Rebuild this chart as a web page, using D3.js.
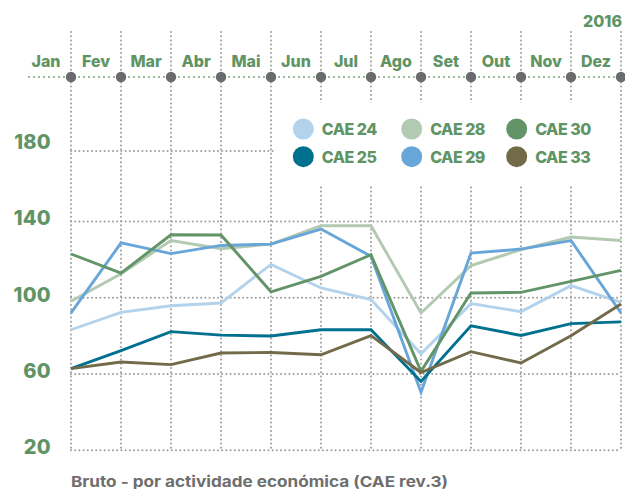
<!DOCTYPE html>
<html><head><meta charset="utf-8">
<script src="https://cdn.jsdelivr.net/npm/d3@7"></script>
<style>
html,body{margin:0;padding:0;background:#fff;}
svg{display:block;font-family:Inter,"Open Sans",sans-serif;}
</style></head>
<body>
<svg id="chart" width="625" height="489"></svg>
<script>
const months = ["Jan","Fev","Mar","Abr","Mai","Jun","Jul","Ago","Set","Out","Nov","Dez"];
const yTicks = [20,60,100,140,180];
const year = "2016";
const footnote = "Bruto - por actividade económica (CAE rev.3)";
const seriesNames = ["CAE 24","CAE 25","CAE 28","CAE 29","CAE 30","CAE 33"];
const seriesColors = ["#b3d3ec","#00708f","#b2c9b2","#68a6d9","#639467","#736a4a"];
const cae24 = [83.2,92.3,95.8,97.2,117.5,105.1,99.0,70.6,96.9,92.7,106.3,97.5];
const cae25 = [62.8,72.2,82.2,80.4,79.9,83.2,83.2,56.1,85.3,80.2,86.4,87.3];
const cae28 = [98.1,112.6,130.0,125.7,128.1,137.7,137.7,92.0,116.8,125.2,131.8,130.0];
const cae29 = [92.0,128.7,123.1,127.4,128.1,136.0,121.7,50.4,123.4,125.5,130.0,92.0];
const cae30 = [122.9,112.9,133.0,132.9,103.1,111.2,122.5,61.4,102.5,102.8,108.6,114.3];
const cae33 = [62.8,66.3,64.9,71.0,71.3,70.1,80.1,60.8,71.7,65.8,80.1,96.7];
const seriesValues = [cae24,cae25,cae28,cae29,cae30,cae33];
const drawOrder = [0,2,3,4,1,5];
const legendOrder = [0,2,4,1,3,5];

const green = "#5f9465";
const svg = d3.select("#chart");
const x = d3.scalePoint().domain(months).range([71,621]);
const y = d3.scaleLinear().domain([20,180]).range([450.3,145.1]);

const dot = {"stroke":"#9c9c9c","stroke-width":2,"stroke-dasharray":"0,4.2","stroke-linecap":"round"};
function applyAttrs(sel,o){for(const k in o) sel.attr(k,o[k]); return sel;}

const g = svg.append("g");
months.forEach(m=>{
  applyAttrs(g.append("line").attr("x1",x(m)).attr("x2",x(m)).attr("y1",32).attr("y2",450),dot);
});
yTicks.forEach(t=>{
  const yy = t===180 ? y(t)+6 : y(t);
  applyAttrs(g.append("line").attr("x1",71).attr("x2",621).attr("y1",yy).attr("y2",yy),dot);
});

svg.append("g").selectAll("text").data(yTicks).join("text")
  .attr("x",51).attr("y",d=>y(d)-3)
  .attr("text-anchor","end").attr("dominant-baseline","central")
  .attr("fill",green).attr("font-weight",800).attr("font-size",20)
  .attr("letter-spacing",0.3)
  .text(d=>d);

const line = d3.line().x((d,i)=>x(months[i])).y(d=>y(d));
drawOrder.forEach(k=>{
  svg.append("path").datum(seriesValues[k])
    .attr("d",line).attr("fill","none")
    .attr("stroke",seriesColors[k]).attr("stroke-width",2.9)
    .attr("stroke-linejoin","miter");
});

svg.append("line").attr("x1",29).attr("x2",625).attr("y1",77).attr("y2",77)
  .attr("stroke","#7fae82").attr("stroke-width",2.2).attr("stroke-dasharray","0,5").attr("stroke-linecap","round");
svg.append("g").selectAll("circle").data(months).join("circle")
  .attr("cx",d=>x(d)).attr("cy",77).attr("r",5.2).attr("fill","#6b6b6d");
svg.append("g").selectAll("text").data(months).join("text")
  .attr("x",d=>x(d)-25).attr("y",67).attr("text-anchor","middle")
  .attr("fill",green).attr("font-weight",800).attr("font-size",16)
  .text(d=>d);
svg.append("text").attr("x",622).attr("y",27).attr("text-anchor","end")
  .attr("fill",green).attr("font-weight",800).attr("font-size",16).text(year);

svg.append("rect").attr("x",275).attr("y",103).attr("width",343).attr("height",82).attr("fill","#fff");
const colX = [303.3,411.7,516.7];
const rowY = [129,156.7];
legendOrder.forEach((k,j)=>{
  const c = j%3, r = Math.floor(j/3);
  svg.append("circle").attr("cx",colX[c]).attr("cy",rowY[r]).attr("r",10.5).attr("fill",seriesColors[k]);
  svg.append("text").attr("x",colX[c]+18.5).attr("y",rowY[r]+6)
    .attr("fill",green).attr("font-weight",800).attr("font-size",16)
    .attr("letter-spacing",-0.5)
    .text(seriesNames[k]);
});

svg.append("text").attr("x",71).attr("y",486.5).attr("fill","#6e6e6e")
  .attr("font-weight",700).attr("font-size",15)
  .attr("textLength",377).attr("lengthAdjust","spacingAndGlyphs").text(footnote);
</script>
</body></html>
